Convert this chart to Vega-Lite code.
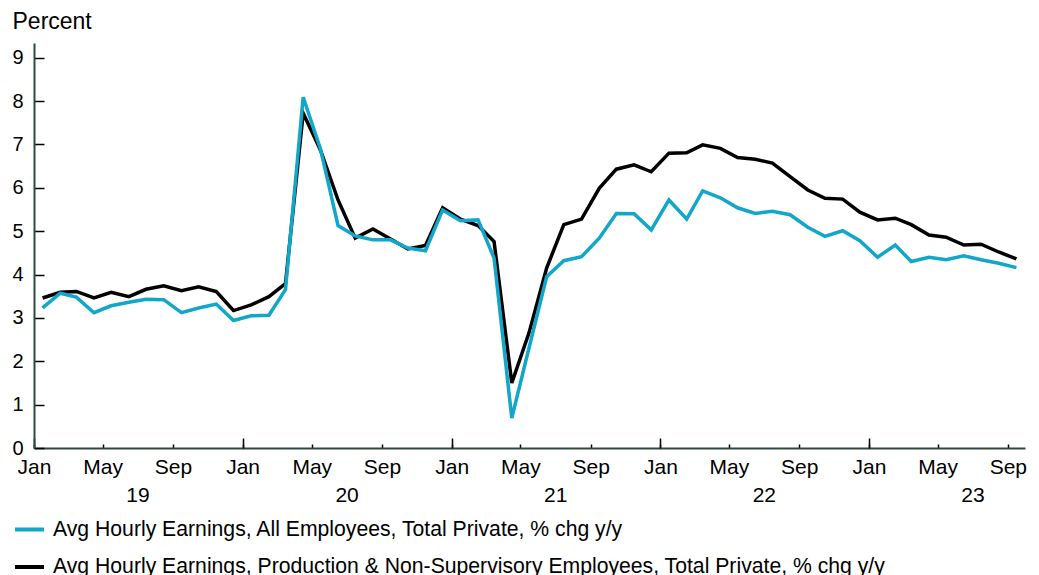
{
  "$schema": "https://vega.github.io/schema/vega-lite/v6.json",
  "width": 991,
  "height": 405,
  "autosize": {"type": "none"},
  "padding": {"left": 34, "top": 43, "right": 14, "bottom": 127},
  "config": {"font": "Liberation Sans", "view": {"stroke": null}, "axis": {"grid": false}},
  "data": {"values": [
    {"date":"2019-01-16","s":"P","v":3.46},{"date":"2019-02-16","s":"P","v":3.59},{"date":"2019-03-16","s":"P","v":3.61},{"date":"2019-04-16","s":"P","v":3.46},{"date":"2019-05-16","s":"P","v":3.59},{"date":"2019-06-16","s":"P","v":3.49},{"date":"2019-07-16","s":"P","v":3.66},{"date":"2019-08-16","s":"P","v":3.74},{"date":"2019-09-16","s":"P","v":3.63},{"date":"2019-10-16","s":"P","v":3.72},{"date":"2019-11-16","s":"P","v":3.61},{"date":"2019-12-16","s":"P","v":3.17},
    {"date":"2020-01-16","s":"P","v":3.30},{"date":"2020-02-16","s":"P","v":3.49},{"date":"2020-03-16","s":"P","v":3.79},{"date":"2020-04-16","s":"P","v":7.72},{"date":"2020-05-16","s":"P","v":6.88},{"date":"2020-06-16","s":"P","v":5.72},{"date":"2020-07-16","s":"P","v":4.84},{"date":"2020-08-16","s":"P","v":5.05},{"date":"2020-09-16","s":"P","v":4.82},{"date":"2020-10-16","s":"P","v":4.59},{"date":"2020-11-16","s":"P","v":4.67},{"date":"2020-12-16","s":"P","v":5.54},
    {"date":"2021-01-16","s":"P","v":5.28},{"date":"2021-02-16","s":"P","v":5.13},{"date":"2021-03-16","s":"P","v":4.76},{"date":"2021-04-16","s":"P","v":1.50},{"date":"2021-05-16","s":"P","v":2.65},{"date":"2021-06-16","s":"P","v":4.15},{"date":"2021-07-16","s":"P","v":5.15},{"date":"2021-08-16","s":"P","v":5.28},{"date":"2021-09-16","s":"P","v":5.99},{"date":"2021-10-16","s":"P","v":6.43},{"date":"2021-11-16","s":"P","v":6.53},{"date":"2021-12-16","s":"P","v":6.37},
    {"date":"2022-01-16","s":"P","v":6.80},{"date":"2022-02-16","s":"P","v":6.81},{"date":"2022-03-16","s":"P","v":6.99},{"date":"2022-04-16","s":"P","v":6.91},{"date":"2022-05-16","s":"P","v":6.70},{"date":"2022-06-16","s":"P","v":6.66},{"date":"2022-07-16","s":"P","v":6.57},{"date":"2022-08-16","s":"P","v":6.26},{"date":"2022-09-16","s":"P","v":5.95},{"date":"2022-10-16","s":"P","v":5.76},{"date":"2022-11-16","s":"P","v":5.74},{"date":"2022-12-16","s":"P","v":5.44},
    {"date":"2023-01-16","s":"P","v":5.26},{"date":"2023-02-16","s":"P","v":5.30},{"date":"2023-03-16","s":"P","v":5.15},{"date":"2023-04-16","s":"P","v":4.91},{"date":"2023-05-16","s":"P","v":4.86},{"date":"2023-06-16","s":"P","v":4.68},{"date":"2023-07-16","s":"P","v":4.70},{"date":"2023-08-16","s":"P","v":4.52},{"date":"2023-09-16","s":"P","v":4.36},
    {"date":"2019-01-16","s":"A","v":3.23},{"date":"2019-02-16","s":"A","v":3.57},{"date":"2019-03-16","s":"A","v":3.48},{"date":"2019-04-16","s":"A","v":3.12},{"date":"2019-05-16","s":"A","v":3.28},{"date":"2019-06-16","s":"A","v":3.36},{"date":"2019-07-16","s":"A","v":3.43},{"date":"2019-08-16","s":"A","v":3.42},{"date":"2019-09-16","s":"A","v":3.12},{"date":"2019-10-16","s":"A","v":3.23},{"date":"2019-11-16","s":"A","v":3.32},{"date":"2019-12-16","s":"A","v":2.94},
    {"date":"2020-01-16","s":"A","v":3.05},{"date":"2020-02-16","s":"A","v":3.06},{"date":"2020-03-16","s":"A","v":3.65},{"date":"2020-04-16","s":"A","v":8.09},{"date":"2020-05-16","s":"A","v":6.91},{"date":"2020-06-16","s":"A","v":5.13},{"date":"2020-07-16","s":"A","v":4.89},{"date":"2020-08-16","s":"A","v":4.80},{"date":"2020-09-16","s":"A","v":4.80},{"date":"2020-10-16","s":"A","v":4.61},{"date":"2020-11-16","s":"A","v":4.55},{"date":"2020-12-16","s":"A","v":5.49},
    {"date":"2021-01-16","s":"A","v":5.24},{"date":"2021-02-16","s":"A","v":5.26},{"date":"2021-03-16","s":"A","v":4.38},{"date":"2021-04-16","s":"A","v":0.69},{"date":"2021-05-16","s":"A","v":2.30},{"date":"2021-06-16","s":"A","v":3.95},{"date":"2021-07-16","s":"A","v":4.32},{"date":"2021-08-16","s":"A","v":4.41},{"date":"2021-09-16","s":"A","v":4.84},{"date":"2021-10-16","s":"A","v":5.41},{"date":"2021-11-16","s":"A","v":5.40},{"date":"2021-12-16","s":"A","v":5.03},
    {"date":"2022-01-16","s":"A","v":5.72},{"date":"2022-02-16","s":"A","v":5.28},{"date":"2022-03-16","s":"A","v":5.93},{"date":"2022-04-16","s":"A","v":5.77},{"date":"2022-05-16","s":"A","v":5.54},{"date":"2022-06-16","s":"A","v":5.41},{"date":"2022-07-16","s":"A","v":5.46},{"date":"2022-08-16","s":"A","v":5.38},{"date":"2022-09-16","s":"A","v":5.09},{"date":"2022-10-16","s":"A","v":4.88},{"date":"2022-11-16","s":"A","v":5.01},{"date":"2022-12-16","s":"A","v":4.78},
    {"date":"2023-01-16","s":"A","v":4.40},{"date":"2023-02-16","s":"A","v":4.68},{"date":"2023-03-16","s":"A","v":4.30},{"date":"2023-04-16","s":"A","v":4.40},{"date":"2023-05-16","s":"A","v":4.34},{"date":"2023-06-16","s":"A","v":4.43},{"date":"2023-07-16","s":"A","v":4.34},{"date":"2023-08-16","s":"A","v":4.26},{"date":"2023-09-16","s":"A","v":4.16}
  ]},
  "layer": [
    {
      "mark": {"type": "line", "strokeWidth": 3.5, "strokeJoin": "miter"},
      "encoding": {
        "x": {
          "field": "date", "type": "temporal",
          "scale": {"type": "utc", "domain": [{"year": 2019, "month": 1, "date": 1, "utc": true}, {"year": 2023, "month": 10, "date": 1, "utc": true}]},
          "axis": {
            "orient": "bottom",
            "title": null,
            "values": [
              {"year": 2019, "month": 1, "date": 1, "utc": true}, {"year": 2019, "month": 5, "date": 1, "utc": true}, {"year": 2019, "month": 9, "date": 1, "utc": true},
              {"year": 2020, "month": 1, "date": 1, "utc": true}, {"year": 2020, "month": 5, "date": 1, "utc": true}, {"year": 2020, "month": 9, "date": 1, "utc": true},
              {"year": 2021, "month": 1, "date": 1, "utc": true}, {"year": 2021, "month": 5, "date": 1, "utc": true}, {"year": 2021, "month": 9, "date": 1, "utc": true},
              {"year": 2022, "month": 1, "date": 1, "utc": true}, {"year": 2022, "month": 5, "date": 1, "utc": true}, {"year": 2022, "month": 9, "date": 1, "utc": true},
              {"year": 2023, "month": 1, "date": 1, "utc": true}, {"year": 2023, "month": 5, "date": 1, "utc": true}, {"year": 2023, "month": 9, "date": 1, "utc": true}
            ],
            "labelExpr": "utcFormat(datum.value, '%b')",
            "tickSize": -4, "tickColor": "#000000", "tickWidth": 1.5,
            "domainColor": "#2f4a3d", "domainWidth": 2,
            "labelFontSize": 21, "labelColor": "#000000", "labelPadding": 12.5,
            "labelFlush": false, "labelOverlap": false
          }
        },
        "y": {
          "field": "v", "type": "quantitative",
          "scale": {"domain": [0, 9.34], "nice": false},
          "axis": {
            "values": [0, 1, 2, 3, 4, 5, 6, 7, 8, 9],
            "title": "Percent", "titleAngle": 0, "titleAlign": "left", "titleBaseline": "alphabetic",
            "titleX": -22, "titleY": -15, "titleFontSize": 23, "titleFontWeight": "normal", "titleColor": "#000000",
            "tickSize": -10, "tickColor": "#000000", "tickWidth": 1.5,
            "domainColor": "#2f4a3d", "domainWidth": 2,
            "labelFontSize": 20, "labelColor": "#000000", "labelPadding": 21, "labelFlush": false
          }
        },
        "color": {
          "field": "s", "type": "nominal",
          "scale": {"domain": ["A", "P"], "range": ["#12a7c8", "#000000"]},
          "legend": {
            "orient": "none", "legendX": -21, "legendY": 470, "direction": "vertical",
            "title": null, "padding": 0,
            "symbolType": "stroke", "symbolSize": 841, "symbolStrokeWidth": 4,
            "labelFontSize": 21.2, "labelColor": "#000000", "labelOffset": 7, "labelLimit": 2000,
            "rowPadding": 10.5,
            "labelExpr": "datum.label == 'A' ? 'Avg Hourly Earnings, All Employees, Total Private, % chg y/y' : 'Avg Hourly Earnings, Production & Non-Supervisory Employees, Total Private, % chg y/y'"
          }
        }
      }
    },
    {
      "mark": {"type": "point", "opacity": 0},
      "encoding": {
        "x": {
          "field": "date", "type": "temporal",
          "scale": {"type": "utc", "domain": [{"year": 2019, "month": 1, "date": 1, "utc": true}, {"year": 2023, "month": 10, "date": 1, "utc": true}]},
          "axis": {
            "orient": "bottom",
            "title": null, "domain": false, "labels": false,
            "values": [
              {"year": 2019, "month": 1, "date": 1, "utc": true}, {"year": 2020, "month": 1, "date": 1, "utc": true},
              {"year": 2021, "month": 1, "date": 1, "utc": true}, {"year": 2022, "month": 1, "date": 1, "utc": true},
              {"year": 2023, "month": 1, "date": 1, "utc": true}
            ],
            "tickSize": -10, "tickColor": "#000000", "tickWidth": 1.5
          }
        }
      }
    },
    {
      "mark": {"type": "point", "opacity": 0},
      "encoding": {
        "x": {
          "field": "date", "type": "temporal",
          "scale": {"type": "utc", "domain": [{"year": 2019, "month": 1, "date": 1, "utc": true}, {"year": 2023, "month": 10, "date": 1, "utc": true}]},
          "axis": {
            "orient": "bottom",
            "title": null, "domain": false, "ticks": false,
            "values": [
              {"year": 2019, "month": 7, "date": 1, "utc": true}, {"year": 2020, "month": 7, "date": 1, "utc": true},
              {"year": 2021, "month": 7, "date": 1, "utc": true}, {"year": 2022, "month": 7, "date": 1, "utc": true},
              {"year": 2023, "month": 7, "date": 1, "utc": true}
            ],
            "labelExpr": "utcFormat(datum.value, '%y')",
            "labelFontSize": 21, "labelColor": "#000000", "labelPadding": 36.5,
            "labelFlush": false, "labelOverlap": false
          }
        }
      }
    }
  ],
  "resolve": {"scale": {"x": "independent"}, "axis": {"x": "independent"}}
}
